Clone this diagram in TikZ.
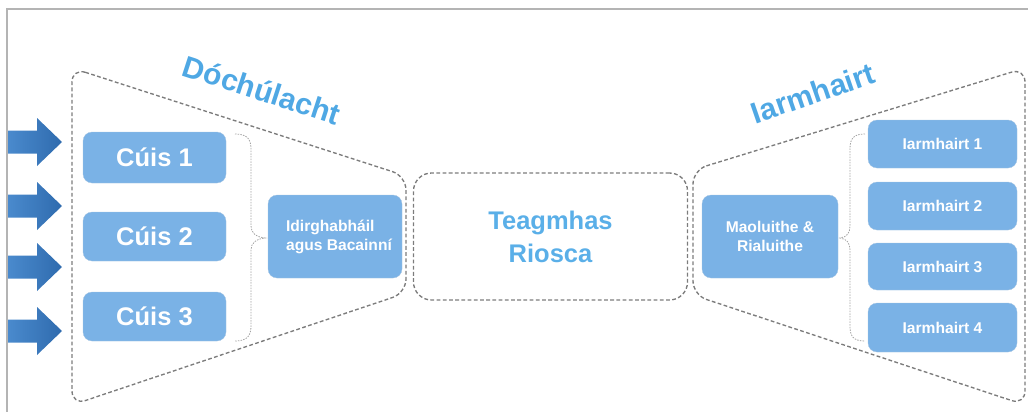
\documentclass[tikz,border=0pt]{standalone}
\usepackage{fontspec}
\setmainfont{Liberation Sans}
\definecolor{boxblue}{HTML}{7AB2E6}
\definecolor{titleblue}{HTML}{4FA8E4}
\definecolor{evblue}{HTML}{5AAFE8}
\definecolor{arrowL}{HTML}{4A8ACD}
\definecolor{arrowR}{HTML}{2F6BAE}
\definecolor{dashgrey}{HTML}{7C7C7C}
\definecolor{framegrey}{HTML}{B4B4B4}
\tikzset{
  bluebox/.style={fill=boxblue, draw=boxblue!90!black!60, line width=0.3pt, rounded corners=9pt, text=white, font=\bfseries, inner sep=0pt},
  bigtxt/.style={font=\bfseries\fontsize{25.5}{29}\selectfont},
  smalltxt/.style={font=\bfseries\fontsize{15.6}{19}\selectfont},
  dashline/.style={draw=dashgrey, line width=1.35pt, dash pattern=on 3.8pt off 2.4pt},
  outline/.style={dashline, rounded corners=14pt},
  bracel/.style={draw=dashgrey!70, line width=0.8pt, dash pattern=on 1.5pt off 1.2pt},
  titletxt/.style={text=titleblue, font=\bfseries\fontsize{30}{33}\selectfont},
  inarrow/.style={left color=arrowL, right color=arrowR, draw=none}
}
\begin{document}
\begin{tikzpicture}[x=1pt,y=-1pt]
\useasboundingbox (0,0) rectangle (1028,412);
% frame
\draw[framegrey, line width=1.8pt] (7,412) -- (7,9) -- (1028,9);
% outlines
\draw[outline] (72,68) -- (406,176) -- (406,293) -- (72,405) -- cycle;
\draw[outline] (693,170) -- (1025,68) -- (1025,405) -- (693,295) -- cycle;
\node[dashline, rounded corners=18pt,
      minimum width=274pt, minimum height=127pt, inner sep=0pt] (ev) at (550.5,236.5) {};
\node[text=evblue, font=\bfseries\fontsize{25.5}{33}\selectfont, align=center] (evtxt) at (550.5,237) {Teagmhas\\Riosca};
% titles
\node[titletxt, rotate=-18] (tl) at (262,90) {Dóchúlacht};
\node[titletxt, rotate=19] (tr) at (813,93) {Iarmhairt};
% arrows
\foreach \yy/\nm in {142/a1,206/a2,267/a3,331/a4}{
  \path[inarrow] (8,\yy-11.5) -- (37,\yy-11.5) -- (37,\yy-24) -- (62,\yy) -- (37,\yy+24) -- (37,\yy+11.5) -- (8,\yy+11.5) -- cycle;
  \coordinate (\nm) at (62,\yy);
}
% causes
\node[bluebox, bigtxt, minimum width=143pt, minimum height=51pt] (c1) at (154.5,157.5) {Cúis 1};
\node[bluebox, bigtxt, minimum width=143pt, minimum height=49pt] (c2) at (154.5,236.5) {Cúis 2};
\node[bluebox, bigtxt, minimum width=143pt, minimum height=49pt] (c3) at (154.5,316.5) {Cúis 3};
% barriers
\node[bluebox, minimum width=134pt, minimum height=83pt] (bar) at (335,236.5) {};
\node[text=white, smalltxt, align=left, inner sep=0pt] (bartxt) at (339,237) {Idirghabháil\\agus Bacainní};
% mitigation
\node[bluebox, smalltxt, align=center, minimum width=136pt, minimum height=83pt] (mit) at (770,236.5) {Maoluithe \&\\Rialuithe};
% consequences
\node[bluebox, smalltxt, minimum width=149pt, minimum height=48pt] (i1) at (942.5,144) {Iarmhairt 1};
\node[bluebox, smalltxt, minimum width=149pt, minimum height=48pt] (i2) at (942.5,206) {Iarmhairt 2};
\node[bluebox, smalltxt, minimum width=149pt, minimum height=47pt] (i3) at (942.5,266.5) {Iarmhairt 3};
\node[bluebox, smalltxt, minimum width=149pt, minimum height=49pt] (i4) at (942.5,327.5) {Iarmhairt 4};
% braces
\draw[bracel] (235,134) .. controls (247,134) and (251,139) .. (251,149) -- (251,226)
  .. controls (251,233) and (256,237) .. (265,238)
  .. controls (256,239) and (251,243) .. (251,250) -- (251,326)
  .. controls (251,336) and (247,341) .. (235,341);
\draw[bracel] (865,134) .. controls (853,134) and (850,139) .. (850,149) -- (850,226)
  .. controls (850,233) and (847,237) .. (840,238)
  .. controls (847,239) and (850,243) .. (850,250) -- (850,326)
  .. controls (850,336) and (853,341) .. (865,341);
\end{tikzpicture}
\end{document}
